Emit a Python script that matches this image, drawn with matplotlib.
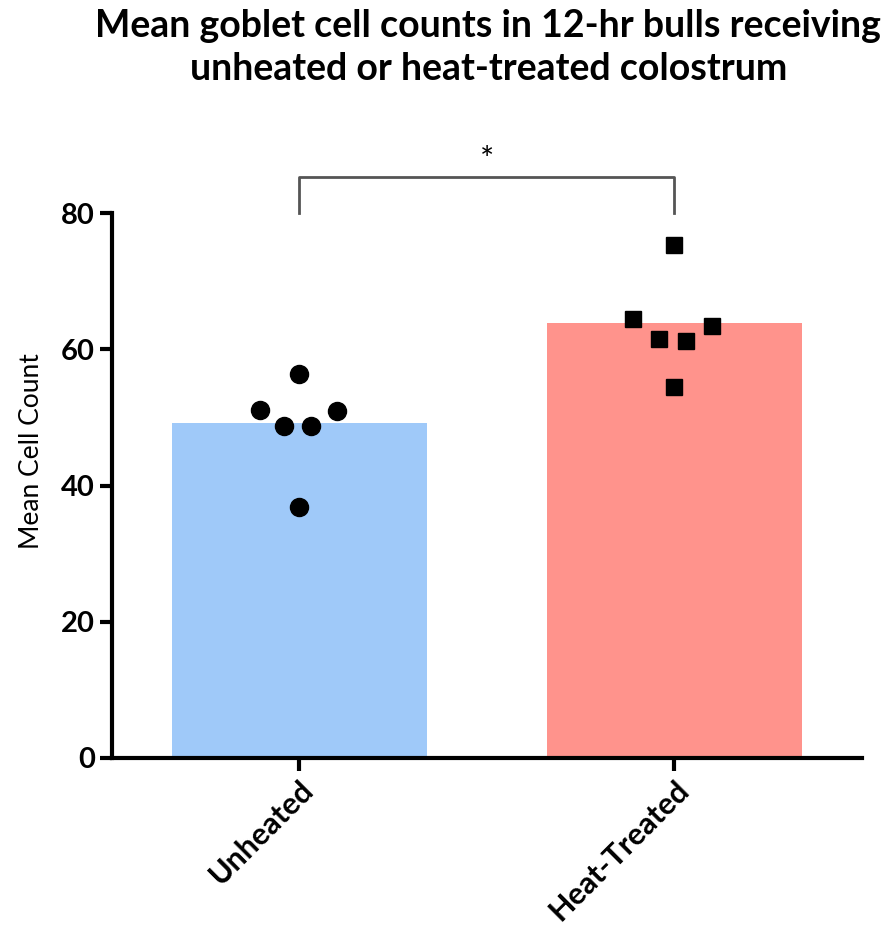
import numpy as np
import matplotlib.pyplot as plt

plt.rcParams['font.family'] = ['Lato', 'DejaVu Sans']

# datos
categorias = ['Unheated', 'Heat-Treated']
medias = [49.2, 63.9]
unheated = [56.4, 51.1, 48.7, 48.7, 50.9, 36.8]
heat_treated = [75.4, 64.4, 61.5, 61.2, 63.4, 54.5]
desplaz_unheated = [0.0, -0.105, -0.04, 0.03, 0.10, 0.0]
desplaz_heat = [0.0, -0.11, -0.04, 0.03, 0.10, 0.0]
colores = ['#9fc9f9', '#ff938c']

fig = plt.figure(figsize=(8.96, 9.3), dpi=100)
ax = fig.add_axes([0.125, 0.185, 0.837, 0.659])

x = np.arange(len(categorias))
ax.bar(x, medias, width=0.68, color=colores, zorder=1)

ax.plot(x[0] + np.array(desplaz_unheated), unheated, 'o', color='black',
        markersize=13, zorder=3, clip_on=False)
ax.plot(x[1] + np.array(desplaz_heat), heat_treated, 's', color='black',
        markersize=11.5, zorder=3, clip_on=False)

# barra de significancia
ax.plot([x[0], x[0], x[1], x[1]], [80, 85.3, 85.3, 80], color='#555555',
        linewidth=2, clip_on=False)
ax.text((x[0] + x[1]) / 2, 87.6, '*', ha='center', va='center', fontsize=24)

ax.set_xlim(-0.5, 1.5)
ax.set_ylim(0, 90)
ax.set_yticks([0, 20, 40, 60, 80])
ax.spines['left'].set_bounds(0, 80)
ax.spines['top'].set_visible(False)
ax.spines['right'].set_visible(False)
ax.spines['left'].set_linewidth(3)
ax.spines['bottom'].set_linewidth(3)
ax.tick_params(width=3, length=9, labelsize=21)
for lab in ax.get_yticklabels():
    lab.set_fontweight('bold')

ax.set_xticks(x)
ax.set_xticklabels(categorias, rotation=45, ha='right', rotation_mode='anchor',
                   fontweight='bold', fontsize=22)
ax.set_ylabel('Mean Cell Count', fontsize=19, labelpad=12)

fig.suptitle('Mean goblet cell counts in 12-hr bulls receiving\nunheated or heat-treated colostrum',
             fontsize=27, fontweight='bold', x=0.545, y=0.99, linespacing=1.3)

fig.savefig('out.png', dpi=100)
